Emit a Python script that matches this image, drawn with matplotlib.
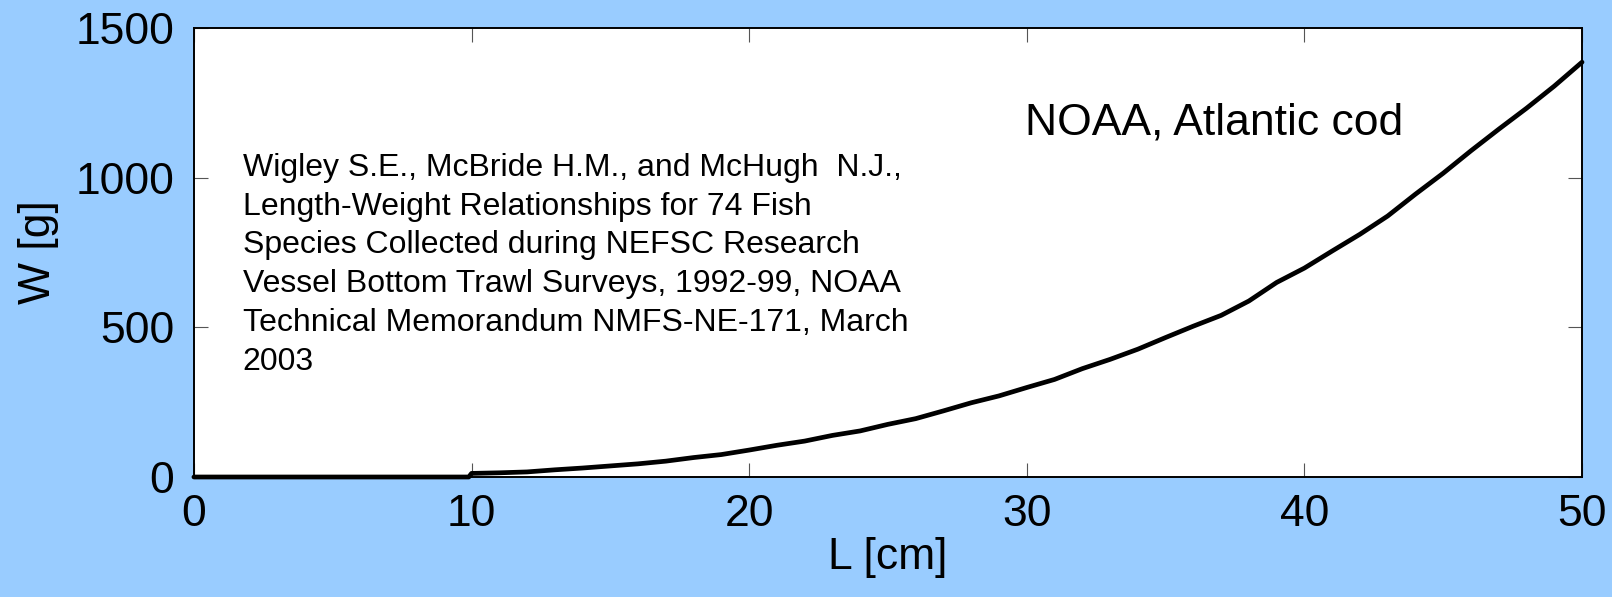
import matplotlib
matplotlib.use("Agg")
import matplotlib.pyplot as plt

# Length-weight curve (L in cm, W in g)
length_cm = [0, 9.9, 10, 11, 12, 13, 14, 15, 16, 17, 18, 19, 20,
             21, 22, 23, 24, 25, 26, 27, 28, 29, 30,
             31, 32, 33, 34, 35, 36, 37, 38, 39, 40,
             41, 42, 43, 44, 45, 46, 47, 48, 49, 50]
weight_g = [0, 0, 12, 14, 17, 24, 30, 37, 44, 53, 65, 75, 90,
            106, 120, 139, 154, 176, 195, 221, 248, 271, 299,
            326, 362, 393, 427, 466, 504, 540, 588, 650, 698,
            755, 811, 872, 945, 1015, 1090, 1162, 1232, 1306, 1386]

x_ticks = [0, 10, 20, 30, 40, 50]
y_ticks = [0, 500, 1000, 1500]

title_text = "NOAA, Atlantic cod"
citation = ("Wigley S.E., McBride H.M., and McHugh  N.J.,\n"
            "Length-Weight Relationships for 74 Fish\n"
            "Species Collected during NEFSC Research\n"
            "Vessel Bottom Trawl Surveys, 1992-99, NOAA\n"
            "Technical Memorandum NMFS-NE-171, March\n"
            "2003")

BG = "#99CCFF"

plt.rcParams["font.family"] = ["Liberation Sans", "DejaVu Sans"]

fig = plt.figure(figsize=(16.12, 5.97), dpi=100, facecolor=BG)
ax = fig.add_axes([0.1203, 0.201, 0.8611, 0.752])
ax.set_facecolor("white")

ax.plot(length_cm, weight_g, color="black", linewidth=3.4,
        solid_capstyle="round", solid_joinstyle="round", clip_on=False, zorder=3)

ax.set_xlim(0, 50)
ax.set_ylim(0, 1500)
ax.set_xticks(x_ticks)
ax.set_yticks(y_ticks)
ax.tick_params(direction="in", length=10, width=0.8, color="#555555",
               labelsize=32, top=True, right=True, pad=12)
ax.tick_params(axis="y", pad=14)
for s in ax.spines.values():
    s.set_linewidth(1.4)
    s.set_color("black")

ax.set_xlabel("L [cm]", fontsize=32, labelpad=2)
ax.set_ylabel("W [g]", fontsize=32, labelpad=12)

ax.text(0.599, 0.789, title_text, transform=ax.transAxes, fontsize=32,
        ha="left", va="center")
ax.text(0.035, 0.722, citation, transform=ax.transAxes, fontsize=23,
        ha="left", va="top", linespacing=1.38)

fig.savefig("out.png", dpi=100, facecolor=BG)
